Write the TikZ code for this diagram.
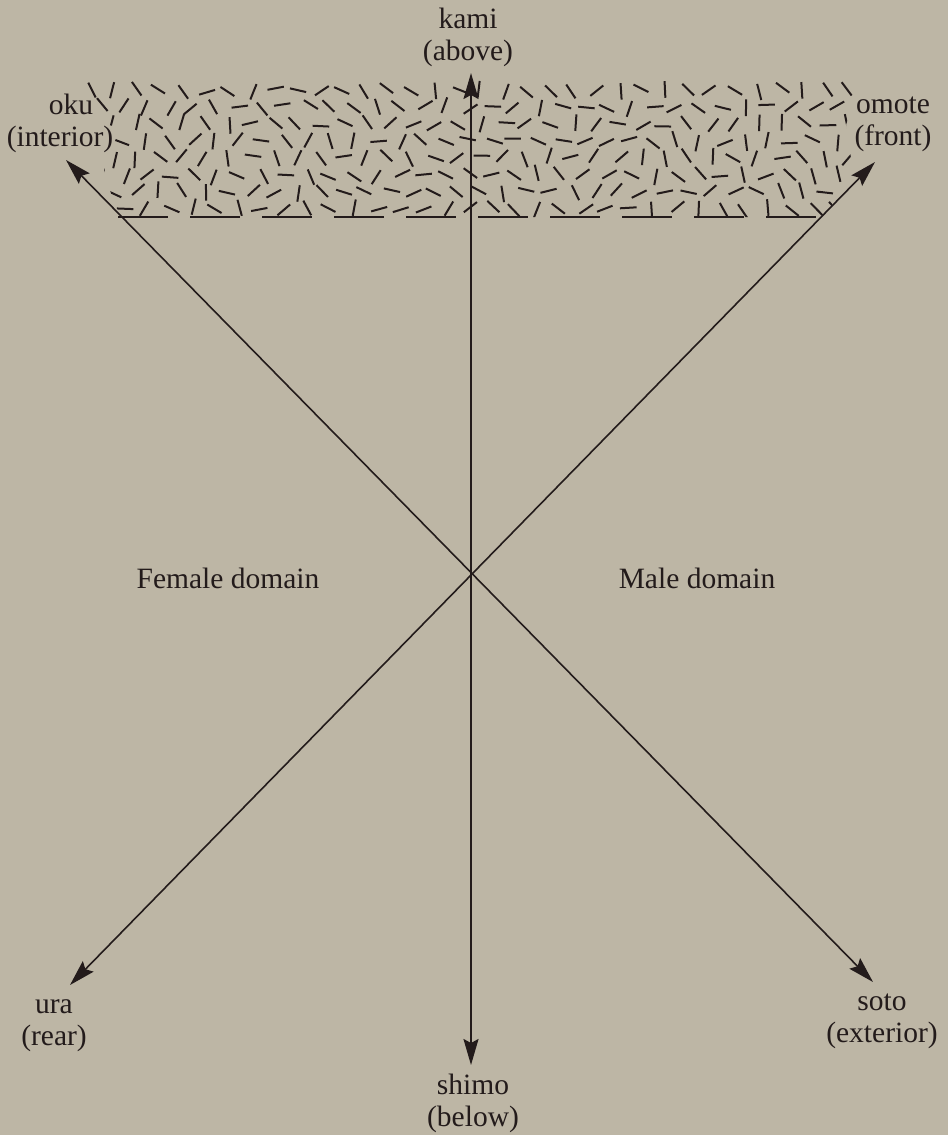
\documentclass[tikz,border=0pt]{standalone}
\usepackage{fontspec}
\setmainfont{Liberation Serif}
\usetikzlibrary{arrows.meta,calc}
\definecolor{bg}{RGB}{189,182,165}
\definecolor{ink}{RGB}{35,27,27}
\begin{document}
\begin{tikzpicture}[x=1pt,y=-1pt,
  lbl/.style={text=ink,align=center,font=\fontsize{29.5}{32}\selectfont,inner sep=0pt},
  axis/.style={draw=ink,line width=1.6pt,{Stealth[length=26pt,width=15pt,inset=4pt]}-{Stealth[length=26pt,width=15pt,inset=4pt]}},
  hatch/.style={draw=ink,line width=2pt},
  base/.style={draw=ink,line width=2.4pt,dash pattern=on 50pt off 22pt}]
\fill[bg] (0,0) rectangle (948,1135);
\useasboundingbox (0,0) rectangle (948,1135);
% hatched band
\begin{scope}
\clip (84,78) -- (860,78) -- (846,125) -- (852,165) -- (826,217) -- (118,217) -- (104,170) -- (120,128) -- (84,118) -- cycle;
\pgfmathsetseed{11}
\foreach \r in {0,...,7}{
  \foreach \c in {0,...,34}{
    \pgfmathsetmacro\px{90+\c*23+mod(\r,2)*11+rand*3}
    \pgfmathsetmacro\py{90+\r*17+rand*2.5}
    \pgfmathsetmacro\ang{rnd*180}
    \draw[hatch] (\px,\py) +(\ang:8.3) -- +(\ang+180:8.3);
  }
}
\end{scope}
\draw[base] (118,217) -- (822,217);
% axes
\coordinate (c) at (471,573);
\coordinate (kamiT) at (471,73);
\coordinate (shimoT) at (471,1065);
\coordinate (okuT) at (66,160);
\coordinate (sotoT) at (873,982);
\coordinate (omoteT) at (875,162);
\coordinate (uraT) at (70,985);
\draw[axis,line width=2pt] (shimoT) -- (kamiT);
\draw[axis] (okuT) -- (sotoT);
\draw[axis] (uraT) -- (omoteT);
% labels
\node[lbl] (kami) at (468,37) {kami\\(above)};
\node[lbl] (shimo) at (473,1103) {shimo\\(below)};
\node[lbl] (oku) at (60,123) {\hspace*{22pt}oku\\(interior)};
\node[lbl] (omote) at (893,124) {omote\\(front)};
\node[lbl] (ura) at (54,1026) {ura\\(rear)};
\node[lbl] (soto) at (882,1021) {soto\\(exterior)};
\node[lbl] (fem) at (228,578) {Female domain};
\node[lbl] (male) at (697,578) {Male domain};
\end{tikzpicture}
\end{document}
